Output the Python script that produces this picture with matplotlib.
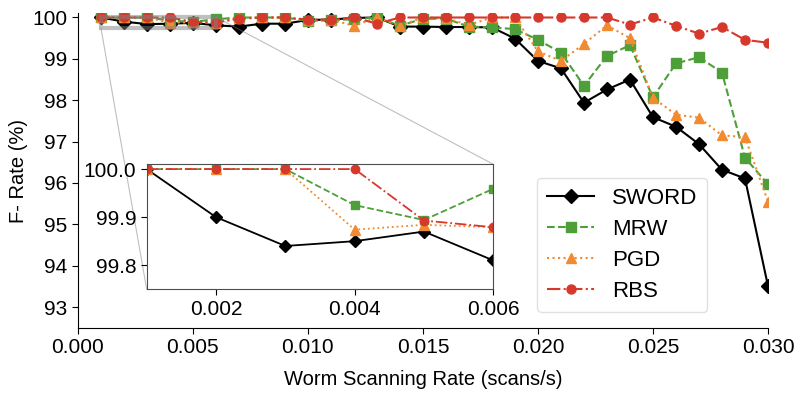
import numpy as np
import matplotlib
matplotlib.use("Agg")
from matplotlib import pyplot as plt

plt.rcParams['font.family'] = ['Liberation Sans', 'DejaVu Sans']

# scanning rates 0.001 .. 0.030
rates = [0.001, 0.002, 0.003, 0.004, 0.005, 0.006, 0.007, 0.008, 0.009, 0.010,
         0.011, 0.012, 0.013, 0.014, 0.015, 0.016, 0.017, 0.018, 0.019, 0.020,
         0.021, 0.022, 0.023, 0.024, 0.025, 0.026, 0.027, 0.028, 0.029, 0.030]

sword = [100.0, 99.90, 99.84, 99.85, 99.87, 99.81, 99.78, 99.85, 99.85, 99.94,
         99.95, 99.99, 100.0, 99.78, 99.78, 99.77, 99.77, 99.76, 99.49, 98.95,
         98.77, 97.94, 98.26, 98.50, 97.59, 97.36, 96.94, 96.32, 96.11, 93.51]
mrw = [100.0, 100.0, 100.0, 99.925, 99.894, 99.959, 100.0, 100.0, 100.0, 99.92,
       99.93, 99.96, 100.0, 99.80, 99.97, 99.97, 99.78, 99.76, 99.72, 99.46,
       99.15, 98.35, 99.07, 99.33, 98.07, 98.89, 99.04, 98.67, 96.61, 95.97]
pgd = [100.0, 100.0, 100.0, 99.874, 99.884, 99.879, 99.99, 100.0, 100.0, 99.93,
       99.95, 99.80, 100.0, 99.80, 100.0, 99.98, 99.82, 100.0, 100.0, 99.18,
       98.95, 99.36, 99.81, 99.50, 98.06, 97.65, 97.58, 97.15, 97.11, 95.55]
rbs = [100.0, 100.0, 100.0, 100.0, 99.893, 99.879, 99.97, 100.0, 100.0, 99.95,
       99.95, 100.0, 99.85, 100.0, 100.0, 100.0, 100.0, 100.0, 100.0, 100.0,
       100.0, 100.0, 100.0, 99.83, 100.0, 99.80, 99.61, 99.77, 99.46, 99.39]

series = [
    ("SWORD", sword, dict(color="black", linestyle="-", marker="D", markersize=7)),
    ("MRW", mrw, dict(color="#4e9f3a", linestyle="--", marker="s", markersize=6.5)),
    ("PGD", pgd, dict(color="#f28a30", linestyle=":", marker="^", markersize=7)),
    ("RBS", rbs, dict(color="#d6382c", linestyle="-.", marker="o", markersize=6.5)),
]

fig = plt.figure(figsize=(7.95, 3.93), dpi=100)
ax = fig.add_axes([0.098, 0.166, 0.868, 0.80])

for name, vals, style in series:
    ax.plot(rates, vals, label=name, linewidth=1.5, **style)

ax.set_xlim(0, 0.030)
ax.set_ylim(92.5, 100.1)
ax.set_xticks([0.000, 0.005, 0.010, 0.015, 0.020, 0.025, 0.030])
ax.set_yticks([93, 94, 95, 96, 97, 98, 99, 100])
ax.xaxis.set_major_formatter(plt.FormatStrFormatter('%.3f'))
ax.tick_params(labelsize=15, direction='out', length=4)
ax.spines['top'].set_visible(False)
ax.spines['right'].set_visible(False)
ax.set_xlabel("Worm Scanning Rate (scans/s)", fontsize=14.5, labelpad=9)
ax.set_ylabel("F- Rate (%)", fontsize=14.5, labelpad=3)

leg = ax.legend(loc='lower right', bbox_to_anchor=(0.912, 0.051), borderaxespad=0,
                fontsize=16, handlelength=2.1, borderpad=0.45, labelspacing=0.45,
                fancybox=True)
leg.get_frame().set_edgecolor('0.85')

# inset zoom on the low-rate region
axins = fig.add_axes([0.1845, 0.264, 0.436, 0.318])
for name, vals, style in series:
    axins.plot(rates, vals, linewidth=1.3, **dict(style, markersize=style["markersize"] - 0.5))
axins.set_xlim(0.001, 0.006)
axins.set_ylim(99.75, 100.01)
axins.set_xticks([0.002, 0.004, 0.006])
axins.set_yticks([99.8, 99.9, 100.0])
axins.xaxis.set_major_formatter(plt.FormatStrFormatter('%.3f'))
axins.yaxis.set_major_formatter(plt.FormatStrFormatter('%.1f'))
axins.tick_params(labelsize=15, direction='out', length=4)
for sp in axins.spines.values():
    sp.set_color('0.3')

ind = ax.indicate_inset_zoom(axins, edgecolor='0.5', alpha=0.5)
ind.rectangle.set_linewidth(3)
for c in ind.connectors:
    c.set_linewidth(0.8)

fig.savefig("out.png", dpi=100)
